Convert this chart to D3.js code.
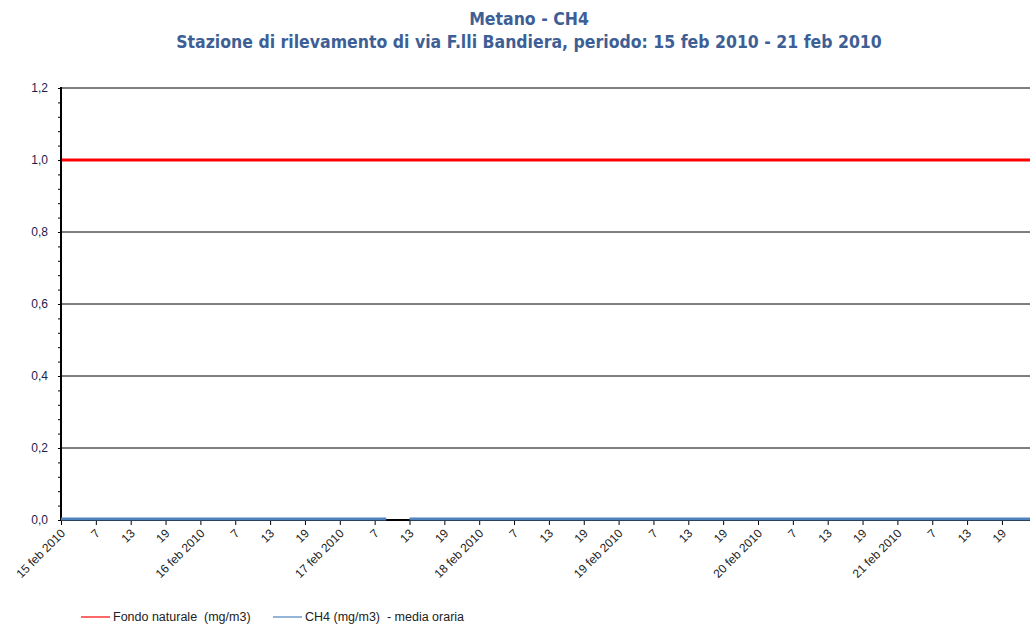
<!DOCTYPE html>
<html>
<head>
<meta charset="utf-8">
<script src="https://cdn.jsdelivr.net/npm/d3@7"></script>
<style>
  body { margin: 0; background: #fff; }
  svg { display: block; }
</style>
</head>
<body>
<svg id="chart" width="1030" height="624"></svg>
<script>
// Metano - CH4, hourly averages, 15-21 feb 2010

const days = ['15 feb 2010', '16 feb 2010', '17 feb 2010', '18 feb 2010', '19 feb 2010', '20 feb 2010', '21 feb 2010'];
const hourLabels = ['7', '13', '19'];
const yTicks = [0, 0.2, 0.4, 0.6, 0.8, 1.0, 1.2];

// natural background threshold (mg/m3)
const fondoNaturale = 1.0;

// CH4 hourly means (mg/m3), one row per day, hours 1..24; null = missing
const ch4 = [
  [0,0,0,0,0,0,0,0,0,0,0,0,0,0,0,0,0,0,0,0,0,0,0,0],
  [0,0,0,0,0,0,0,0,0,0,0,0,0,0,0,0,0,0,0,0,0,0,0,0],
  [0,0,0,0,0,0,0,0,0,null,null,null,0,0,0,0,0,0,0,0,0,0,0,0],
  [0,0,0,0,0,0,0,0,0,0,0,0,0,0,0,0,0,0,0,0,0,0,0,0],
  [0,0,0,0,0,0,0,0,0,0,0,0,0,0,0,0,0,0,0,0,0,0,0,0],
  [0,0,0,0,0,0,0,0,0,0,0,0,0,0,0,0,0,0,0,0,0,0,0,0],
  [0,0,0,0,0,0,0,0,0,0,0,0,0,0,0,0,0,0,0,0,0,0,0,0]
];

const svg = d3.select('#chart');

// x: hour index from start (0 = 15 feb h1), 6-hour ticks
const x = d3.scaleLinear().domain([0, 168]).range([61, 61 + 28 * 34.85]);
const y = d3.scaleLinear().domain([0, 1.2]).range([520, 88]);
const xEnd = 1030;

// Title
const titleColor = '#3e5f95';
const titles = [
  { text: 'Metano - CH4', y: 25 },
  { text: 'Stazione di rilevamento di via F.lli Bandiera, periodo: 15 feb 2010 - 21 feb 2010', y: 48 }
];
svg.append('g').selectAll('text').data(titles).enter().append('text')
  .attr('x', 529).attr('y', d => d.y)
  .attr('text-anchor', 'middle')
  .style('font-family', '"DejaVu Sans Condensed", "DejaVu Sans", sans-serif')
  .style('font-stretch', 'condensed')
  .style('font-weight', 'bold').style('font-size', '17.5px')
  .attr('fill', titleColor)
  .text(d => d.text);

// Gridlines
svg.append('g').selectAll('line').data(yTicks.filter(d => d > 0)).enter().append('line')
  .attr('x1', 61).attr('x2', xEnd)
  .attr('y1', d => y(d)).attr('y2', d => y(d))
  .attr('stroke', '#000').attr('stroke-width', 1);

// Y axis
const yMinor = d3.range(0, 1.2001, 0.04);
const yAxisG = svg.append('g').attr('transform', 'translate(61,0)');
yAxisG.call(d3.axisLeft(y).tickValues(yMinor).tickSize(3).tickFormat(''))
  .call(g => g.select('.domain').remove());
yAxisG.append('line').attr('y1', 87).attr('y2', 521).attr('stroke', '#000').attr('stroke-width', 2);
yAxisG.selectAll('.ylab').data(yTicks).enter().append('text')
  .attr('class', 'ylab')
  .attr('x', -13).attr('y', d => y(d) + 4)
  .attr('text-anchor', 'end')
  .style('font-family', '"Liberation Sans", Arial, sans-serif').style('font-size', '12px')
  .attr('fill', '#1c1c50')
  .text(d => d3.format('.1f')(d).replace('.', ','));

// X axis
const xTickVals = d3.range(0, 168, 6);
const xAxisG = svg.append('g').attr('transform', 'translate(0,520)');
xAxisG.call(d3.axisBottom(x).tickValues(xTickVals).tickSize(5).tickSizeOuter(0).tickFormat(''))
  .call(g => g.select('.domain').remove());
xAxisG.append('line').attr('x1', 61).attr('x2', xEnd).attr('stroke', '#000').attr('stroke-width', 2);

xAxisG.selectAll('.xlab').data(xTickVals).enter().append('text')
  .attr('class', 'xlab')
  .attr('transform', d => `translate(${x(d) + 5},14) rotate(-45)`)
  .attr('text-anchor', 'end')
  .style('font-family', '"Liberation Sans", Arial, sans-serif').style('font-size', '12px')
  .attr('fill', '#222')
  .text(d => (d % 24 === 0) ? days[d / 24] : hourLabels[(d % 24) / 6 - 1]);

// Fondo naturale line
svg.append('line')
  .attr('x1', 62).attr('x2', xEnd)
  .attr('y1', y(fondoNaturale)).attr('y2', y(fondoNaturale))
  .attr('stroke', '#ff0000').attr('stroke-width', 3);

// CH4 line
const ch4Series = ch4.flat().map((v, i) => ({ h: i, v }));
svg.append('path')
  .datum(ch4Series)
  .attr('fill', 'none')
  .attr('stroke', '#4f81bd').attr('stroke-width', 3)
  .attr('d', d3.line().defined(d => d.v !== null).x(d => x(d.h)).y(d => y(d.v) - 1)(ch4Series));

// Legend
const legend = [
  { label: 'Fondo naturale  (mg/m3)', color: '#ff0000', x0: 81 },
  { label: 'CH4 (mg/m3)  - media oraria', color: '#4f81bd', x0: 273 }
];
const lg = svg.append('g').selectAll('g').data(legend).enter().append('g');
lg.append('line').attr('x1', d => d.x0).attr('x2', d => d.x0 + 29)
  .attr('y1', 617).attr('y2', 617).attr('stroke', d => d.color).attr('stroke-width', 1.2);
lg.append('text').attr('x', d => d.x0 + 32).attr('y', 621)
  .style('font-family', '"Liberation Sans", Arial, sans-serif').style('font-size', '12.5px')
  .style('white-space', 'pre')
  .attr('fill', '#222')
  .text(d => d.label);
</script>
</body>
</html>
